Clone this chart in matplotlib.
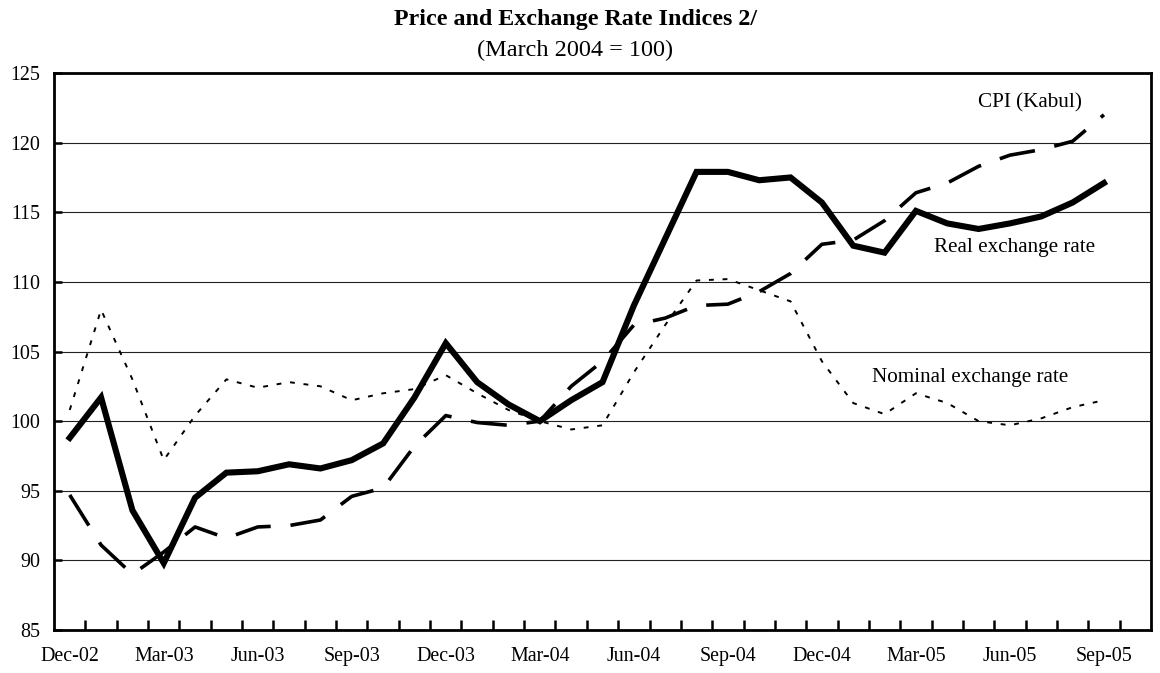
import matplotlib
matplotlib.use("Agg")
import matplotlib.pyplot as plt
import numpy as np

plt.rcParams['font.family'] = ['Liberation Serif', 'DejaVu Serif']

# months Dec-02 .. Oct-05 (last category left empty)
months = ['Dec-02', 'Jan-03', 'Feb-03', 'Mar-03', 'Apr-03', 'May-03', 'Jun-03',
          'Jul-03', 'Aug-03', 'Sep-03', 'Oct-03', 'Nov-03', 'Dec-03', 'Jan-04',
          'Feb-04', 'Mar-04', 'Apr-04', 'May-04', 'Jun-04', 'Jul-04', 'Aug-04',
          'Sep-04', 'Oct-04', 'Nov-04', 'Dec-04', 'Jan-05', 'Feb-05', 'Mar-05',
          'Apr-05', 'May-05', 'Jun-05', 'Jul-05', 'Aug-05', 'Sep-05', 'Oct-05']

real_rate = [98.8, 101.7, 93.6, 89.8, 94.5, 96.3, 96.4, 96.9, 96.6, 97.2, 98.4,
             101.7, 105.6, 102.8, 101.2, 100.0, 101.5, 102.8, 108.3, 113.1, 117.9,
             117.9, 117.3, 117.5, 115.7, 112.6, 112.1, 115.1, 114.2, 113.8, 114.2,
             114.7, 115.7, 117.1]

cpi_kabul = [94.7, 91.1, 89.0, 90.6, 92.4, 91.6, 92.4, 92.5, 92.9, 94.6, 95.2,
             98.2, 100.4, 99.9, 99.7, 100.0, 102.5, 104.3, 106.9, 107.4, 108.3,
             108.4, 109.3, 110.6, 112.7, 113.0, 114.4, 116.4, 117.1, 118.3, 119.1,
             119.5, 120.1, 122.0]

nominal_rate = [100.8, 108.0, 103.0, 97.2, 100.4, 103.0, 102.4, 102.8, 102.5,
                101.5, 102.0, 102.3, 103.3, 102.0, 100.8, 100.0, 99.4, 99.7, 103.5,
                106.9, 110.1, 110.2, 109.4, 108.6, 104.3, 101.3, 100.5, 102.0,
                101.3, 100.0, 99.7, 100.2, 101.0, 101.5]

fig = plt.figure(figsize=(11.6, 6.73), dpi=100)
ax = fig.add_axes([0.0466, 0.0639, 0.9456, 0.8276])

x = np.arange(len(real_rate))
ax.plot(x, real_rate, color='black', lw=4.4, solid_joinstyle='miter')
ax.plot(x, cpi_kabul, color='black', lw=2.6, dashes=(10, 5.5))
ax.plot(x, nominal_rate, color='black', lw=1.4, dashes=(2.5, 4.5))

ax.set_xlim(-0.5, len(months) - 0.5)
ax.set_ylim(85, 125)
ax.set_yticks(np.arange(85, 126, 5))
ax.yaxis.grid(True, color='#222222', lw=0.8)
ax.set_axisbelow(True)

ax.set_xticks(np.arange(0.5, len(months) - 1, 1))
ax.set_xticklabels([])
ax.set_xticks(np.arange(0, len(months), 3), minor=True)
ax.set_xticklabels(months[::3], minor=True)
ax.tick_params(axis='x', which='major', direction='in', length=7, width=1.8)
ax.tick_params(axis='x', which='minor', length=0, pad=12, labelsize=14.4)
ax.tick_params(axis='y', direction='in', length=6, width=1.8, pad=10, labelsize=14.4)

for s in ax.spines.values():
    s.set_linewidth(2)

ax.text(30.64, 122.85, 'CPI (Kabul)', fontsize=15.2, ha='center', va='center')
ax.text(30.16, 112.5, 'Real exchange rate', fontsize=15.2, ha='center', va='center')
ax.text(28.73, 103.1, 'Nominal exchange rate', fontsize=15.2, ha='center', va='center')

fig.text(0.4957, 1 - 20 / 673, 'Price and Exchange Rate Indices 2/', fontsize=17.3,
         fontweight='bold', ha='center', va='center')
fig.text(0.4957, 1 - 50 / 673, '(March 2004 = 100)', fontsize=17.5, ha='center', va='center')

fig.savefig('out.png', dpi=100)
